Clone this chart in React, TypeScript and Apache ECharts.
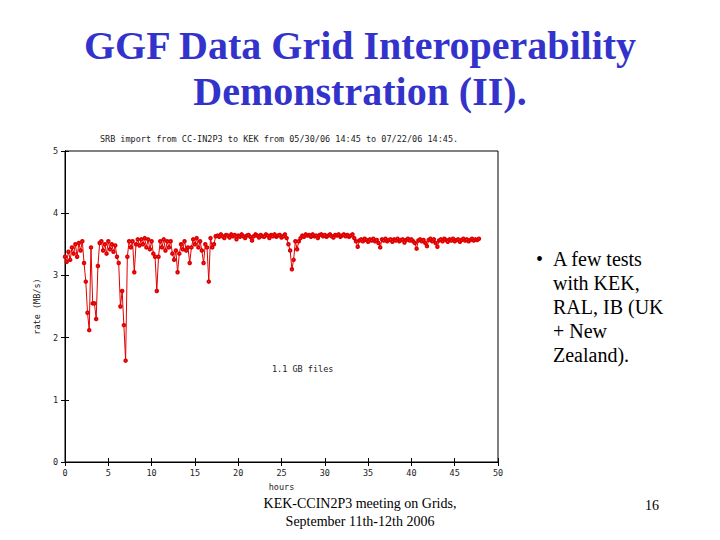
import React, { useEffect, useRef } from "react";
import * as echarts from "echarts";

const stepHours = 0.2;
const rates = [
  3.30, 3.22, 3.38, 3.25, 3.45, 3.35, 3.50, 3.30, 3.52, 3.40,
  3.55, 3.20, 2.90, 2.40, 2.12, 3.45, 2.55, 2.55, 2.30, 3.15,
  3.52, 3.55, 3.40, 3.50, 3.35, 3.55, 3.42, 3.50, 3.38, 3.48,
  3.30, 3.20, 2.50, 2.75, 2.20, 1.63, 3.30, 3.55, 3.45, 3.55,
  3.05, 3.50, 3.58, 3.48, 3.58, 3.50, 3.60, 3.45, 3.58, 3.42,
  3.55, 3.35, 3.30, 2.75, 3.30, 3.55, 3.45, 3.58, 3.40, 3.55,
  3.45, 3.55, 3.35, 3.25, 3.40, 3.05, 3.35, 3.50, 3.42, 3.55,
  3.40, 3.45, 3.20, 3.45, 3.58, 3.50, 3.60, 3.45, 3.55, 3.40,
  3.20, 3.50, 3.45, 2.90, 3.60, 3.45, 3.50, 3.63, 3.64, 3.62,
  3.66, 3.63, 3.60, 3.65, 3.64, 3.61, 3.66, 3.63, 3.65, 3.58,
  3.64, 3.62, 3.66, 3.63, 3.60, 3.64, 3.65, 3.62, 3.56, 3.63,
  3.66, 3.64, 3.61, 3.65, 3.63, 3.62, 3.66, 3.64, 3.60, 3.65,
  3.63, 3.66, 3.62, 3.64, 3.65, 3.61, 3.63, 3.66, 3.60, 3.50,
  3.40, 3.10, 3.25, 3.55, 3.42, 3.55, 3.60, 3.64, 3.62, 3.66,
  3.64, 3.65, 3.62, 3.66, 3.63, 3.64, 3.60, 3.65, 3.66, 3.63,
  3.65, 3.62, 3.64, 3.66, 3.63, 3.61, 3.65, 3.64, 3.66, 3.62,
  3.64, 3.66, 3.63, 3.65, 3.62, 3.64, 3.66, 3.60, 3.55, 3.46,
  3.56, 3.58, 3.55, 3.59, 3.57, 3.54, 3.58, 3.56, 3.59, 3.55,
  3.57, 3.52, 3.45, 3.58, 3.56, 3.59, 3.55, 3.57, 3.58, 3.54,
  3.58, 3.56, 3.59, 3.55, 3.57, 3.58, 3.53, 3.57, 3.59, 3.56,
  3.58, 3.55, 3.52, 3.43, 3.56, 3.58, 3.55, 3.57, 3.52, 3.47,
  3.57, 3.59, 3.55, 3.58, 3.52, 3.46, 3.56, 3.58, 3.55, 3.59,
  3.57, 3.54, 3.58, 3.56, 3.59, 3.55, 3.57, 3.58, 3.54, 3.57,
  3.59, 3.56, 3.58, 3.55, 3.57, 3.59, 3.56, 3.58, 3.57, 3.59,
];

const titleLines = ["GGF Data Grid Interoperability", "Demonstration (II)."];
const chartTitle = "SRB import from CC-IN2P3 to KEK from 05/30/06 14:45 to 07/22/06 14:45.";
const annotation = "1.1 GB files";
const bulletLines = ["A few tests", "with KEK,", "RAL, IB (UK", "+ New", "Zealand)."];
const footerLines = ["KEK-CCIN2P3 meeting on Grids,", "September 11th-12th 2006"];
const pageNumber = "16";

const mono = "DejaVu Sans Mono";
const serif = "Liberation Serif";

export default function App() {
  const ref = useRef<HTMLDivElement>(null);
  useEffect(() => {
    document.body.style.margin = "0";
    const chart = echarts.init(ref.current!, null, { renderer: "svg" });
    const data = rates.map((v, i) => [Math.round(i * stepHours * 100) / 100, v]);
    const axisText = { fontFamily: mono, fontSize: 8.5, color: "#222" };
    const txt = (x: number, y: number, text: string, family: string, size: number, opts: any = {}) => ({
      type: "text",
      x,
      y,
      style: {
        text,
        fontFamily: family,
        fontSize: size,
        fontWeight: opts.weight || "normal",
        fill: opts.fill || "#000",
        textAlign: opts.align || "left",
        textVerticalAlign: "middle",
      },
    });
    const graphics: any[] = [];
    titleLines.forEach((t, i) => {
      graphics.push(txt(360, 45 + i * 46, t, serif, 40, { weight: "bold", fill: "#3333cc", align: "center" }));
    });
    graphics.push(txt(279, 139, chartTitle, mono, 8.5, { fill: "#222", align: "center" }));
    graphics.push(txt(272, 369, annotation, mono, 8.5, { fill: "#222" }));
    graphics.push(txt(536, 259, "•", serif, 20));
    bulletLines.forEach((t, i) => {
      graphics.push(txt(553, 259 + i * 24, t, serif, 20));
    });
    footerLines.forEach((t, i) => {
      graphics.push(txt(360, 503 + i * 18, t, serif, 14, { align: "center" }));
    });
    graphics.push(txt(652, 505, pageNumber, serif, 14, { align: "center" }));

    chart.setOption({
      animation: false,
      backgroundColor: "#ffffff",
      grid: { left: 65, right: 222, top: 151, bottom: 78, show: true, borderColor: "#000", borderWidth: 1 },
      xAxis: [
        {
          type: "value",
          min: 0,
          max: 50,
          interval: 5,
          name: "hours",
          nameLocation: "middle",
          nameGap: 20,
          nameTextStyle: axisText,
          axisLine: { show: true, lineStyle: { color: "#000" } },
          axisTick: { show: true, inside: true, length: 4, lineStyle: { color: "#000" } },
          axisLabel: { ...axisText, margin: 6 },
          splitLine: { show: false },
        },
        {
          type: "value",
          position: "top",
          min: 0,
          max: 50,
          interval: 5,
          axisLine: { show: true, lineStyle: { color: "#000" } },
          axisTick: { show: true, inside: true, length: 4, lineStyle: { color: "#000" } },
          axisLabel: { show: false },
          splitLine: { show: false },
        },
      ],
      yAxis: [
        {
          type: "value",
          min: 0,
          max: 5,
          interval: 1,
          name: "rate (MB/s)",
          nameLocation: "middle",
          nameGap: 22,
          nameRotate: 90,
          nameTextStyle: axisText,
          axisLine: { show: true, lineStyle: { color: "#000" } },
          axisTick: { show: true, inside: true, length: 4, lineStyle: { color: "#000" } },
          axisLabel: { ...axisText, margin: 7 },
          splitLine: { show: false },
        },
        {
          type: "value",
          position: "right",
          min: 0,
          max: 5,
          interval: 1,
          axisLine: { show: true, lineStyle: { color: "#000" } },
          axisTick: { show: true, inside: true, length: 4, lineStyle: { color: "#000" } },
          axisLabel: { show: false },
          splitLine: { show: false },
        },
      ],
      series: [
        {
          type: "line",
          data,
          xAxisIndex: 0,
          yAxisIndex: 0,
          symbol: "emptyCircle",
          symbolSize: 2.5,
          lineStyle: { color: "#e00000", width: 1 },
          itemStyle: { color: "#e00000", borderColor: "#e00000", borderWidth: 0.8 },
        },
      ],
      graphic: graphics,
    });
    return () => chart.dispose();
  }, []);
  return <div ref={ref} style={{ position: "absolute", left: 0, top: 0, width: 720, height: 540 }} />;
}
